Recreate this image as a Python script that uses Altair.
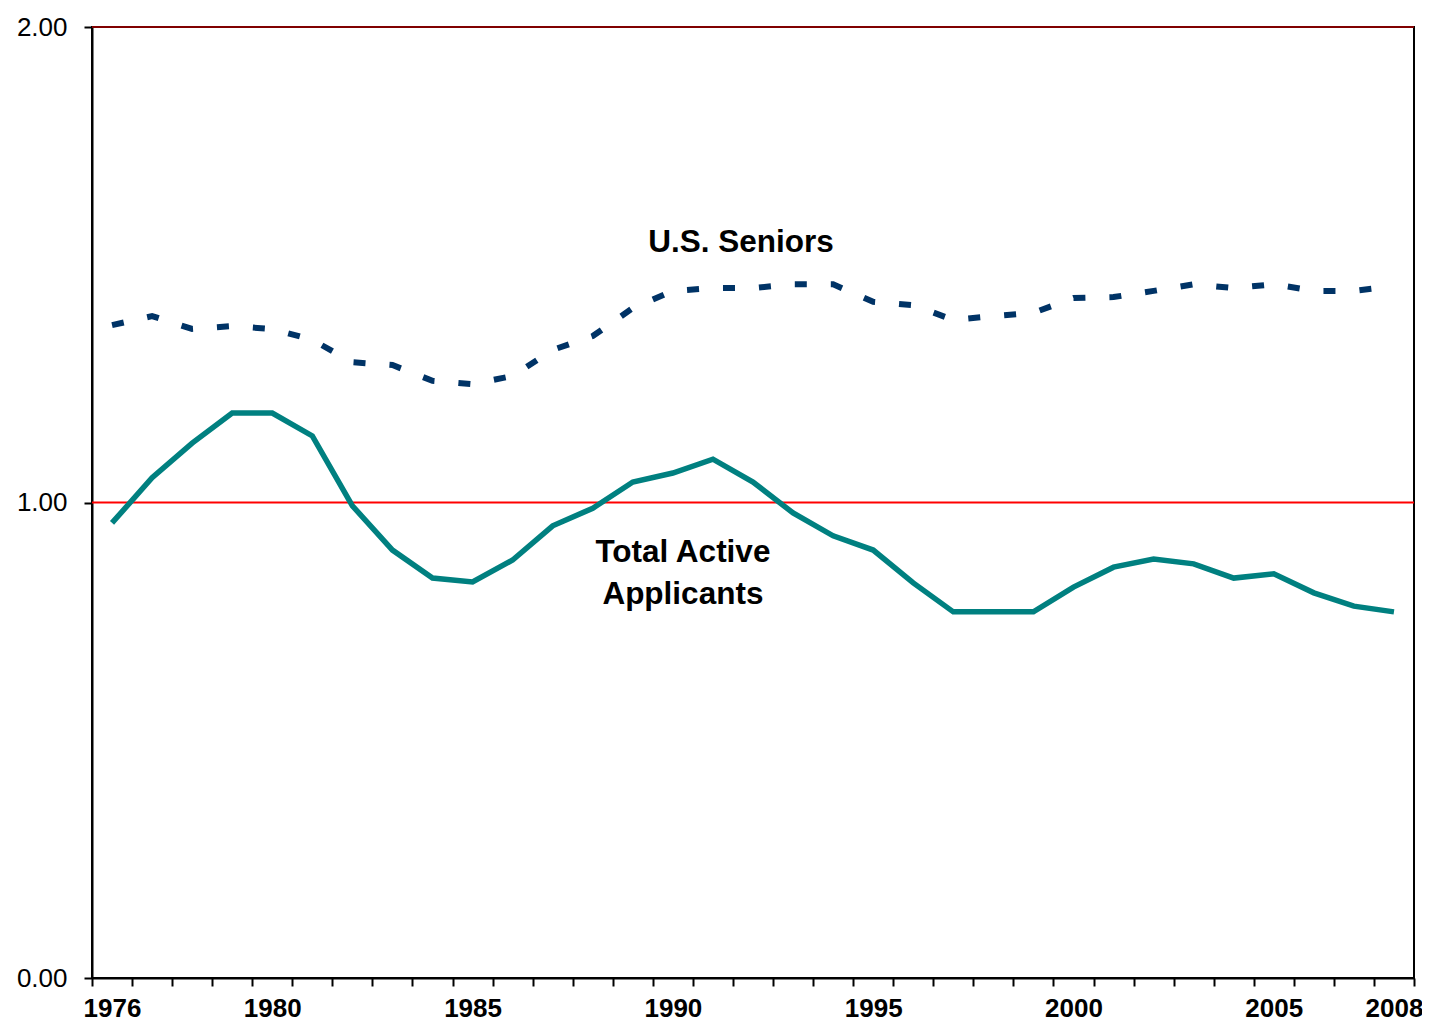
import altair as alt
import pandas as pd

years = list(range(1976, 2009))
total_active = [0.957, 1.052, 1.125, 1.188, 1.188, 1.140, 0.993, 0.900, 0.841, 0.833, 0.879, 0.951,
                0.988, 1.043, 1.062, 1.091, 1.043, 0.978, 0.930, 0.900, 0.831, 0.770, 0.770, 0.770,
                0.822, 0.864, 0.881, 0.871, 0.841, 0.850, 0.810, 0.782, 0.770]
us_seniors = [1.373, 1.392, 1.365, 1.371, 1.365, 1.342, 1.295, 1.289, 1.256, 1.249, 1.266, 1.321,
              1.350, 1.409, 1.445, 1.451, 1.451, 1.459, 1.459, 1.422, 1.415, 1.384, 1.392, 1.399,
              1.430, 1.432, 1.445, 1.459, 1.451, 1.459, 1.445, 1.445, 1.455]
label_years = [1976, 1980, 1985, 1990, 1995, 2000, 2005, 2008]
y_ticks = [0, 1, 2]
ref_values = [1.0, 2.0]
ref_colors = ["#FF0000", "#800000"]
ann_text = ["U.S. Seniors", "Total Active", "Applicants"]
ann_year = [1991.7, 1990.25, 1990.25]
ann_value = [1.545, 0.894, 0.806]

FONT = "Liberation Sans"

df = pd.DataFrame({"year": years, "total": total_active, "seniors": us_seniors})
ref_df = pd.DataFrame({"value": ref_values, "color": ref_colors})
ann_df = pd.DataFrame({"text": ann_text, "year": ann_year, "value": ann_value})

boundaries = [years[0] - 0.5 + i for i in range(len(years) + 1)]
label_expr = ("indexof([" + ",".join(str(v) for v in label_years) +
              "], datum.value + 0.5) >= 0 ? format(datum.value + 0.5, 'd') : ''")

plot_w = 1322
band = plot_w / len(years)

x_enc = alt.X(
    "year:Q",
    scale=alt.Scale(domain=[boundaries[0], boundaries[-1]], nice=False, zero=False),
    axis=alt.Axis(
        values=boundaries, labelExpr=label_expr, labelOffset=band / 2,
        labelFlush=False, labelOverlap=False, labelBound=False, tickSize=8, tickColor="black",
        tickWidth=2, domainColor="black", domainWidth=2, labelFontSize=26,
        labelFontWeight="bold", labelFont=FONT, labelColor="black",
        labelPadding=9, title=None, grid=False,
    ),
)
y_scale = alt.Scale(domain=[0, 2], nice=False)
y_axis = alt.Axis(
    values=y_ticks, format=".2f", tickSize=8, tickColor="black", tickWidth=2,
    domainColor="black", domainWidth=2, labelFontSize=26, labelFont=FONT,
    labelColor="black", labelPadding=17, title=None, grid=False,
)

rules = alt.Chart(ref_df).mark_rule(strokeWidth=2).encode(
    y=alt.Y("value:Q", scale=y_scale, axis=y_axis),
    color=alt.Color("color:N", scale=None),
)

total_line = alt.Chart(df).mark_line(color="#008080", strokeWidth=5.5, strokeJoin="miter").encode(
    x=x_enc, y=alt.Y("total:Q", scale=y_scale, axis=y_axis)
)
seniors_line = alt.Chart(df).mark_line(
    color="#003366", strokeWidth=6, strokeDash=[12, 24], strokeCap="butt"
).encode(x=x_enc, y=alt.Y("seniors:Q", scale=y_scale, axis=y_axis))

labels = alt.Chart(ann_df).mark_text(
    font=FONT, fontSize=31.5, fontWeight="bold", color="black", baseline="middle", align="center"
).encode(x=x_enc, y=alt.Y("value:Q", scale=y_scale, axis=y_axis), text="text:N")

chart = alt.layer(rules, total_line, seniors_line, labels).properties(
    width=plot_w, height=951,
    padding={"left": 84, "top": 19, "right": 8, "bottom": 44},
    autosize=alt.AutoSizeParams(type="none"),
    background="white",
).configure_view(stroke="black", strokeWidth=2)

chart.save("out.html", embed_options={"renderer": "svg", "actions": False})
